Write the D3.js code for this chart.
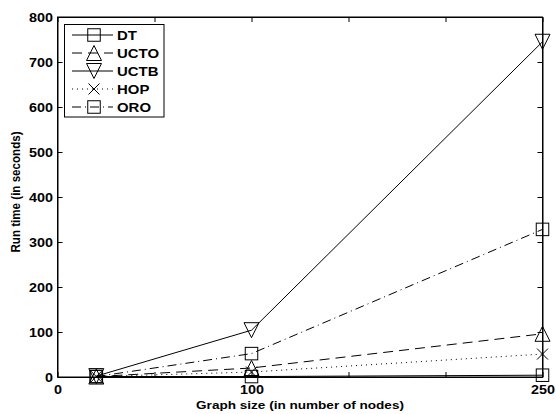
<!DOCTYPE html>
<html><head><meta charset="utf-8">
<script src="https://cdn.jsdelivr.net/npm/d3@7"></script>
<style>
html,body{margin:0;padding:0;background:#fff;}
text{font-family:"Liberation Sans",Arial,Helvetica,sans-serif;font-weight:bold;fill:#000;}
</style></head>
<body>
<svg id="chart" width="556" height="414"></svg>
<script>
// ---- data ----
const graphSizes = [20, 100, 250];
const seriesNames = ["DT", "UCTO", "UCTB", "HOP", "ORO"];
const dtValues   = [1, 1, 4];
const uctoValues = [1, 20, 96];
const uctbValues = [2, 104, 745];
const hopValues  = [1, 11, 51];
const oroValues  = [1, 52, 328];
const xTickValues = [0, 50, 100, 150, 200, 250];
const xTickLabels = [0, 100, 250];
const yTickValues = [0, 100, 200, 300, 400, 500, 600, 700, 800];

const markers = ["square", "triUp", "triDown", "cross", "square"];
const dashes = [null, "10,6", null, "1,4", "9,4,1,4"];
const allValues = [dtValues, uctoValues, uctbValues, hopValues, oroValues];
const series = seriesNames.map((n, i) => ({name: n, values: allValues[i], marker: markers[i], dash: dashes[i]}));

const SX = 1.15; // horizontal stretch of the text in the reference
const svg = d3.select("#chart");
const L = 57.5, R = 542.5, T = 17, B = 377;
const x = d3.scaleLinear().domain([0, 250]).range([L, R]);
const y = d3.scaleLinear().domain([0, 800]).range([B, T]);

svg.append("rect").attr("width", 556).attr("height", 414).attr("fill", "#fff");

svg.append("rect").attr("x", L).attr("y", T).attr("width", R - L).attr("height", B - T)
  .attr("fill", "none").attr("stroke", "#000").attr("stroke-width", 1);

const tk = 5;
svg.append("g").attr("transform", `translate(0,${B})`)
  .call(d3.axisBottom(x).tickValues(xTickValues).tickSizeInner(-tk).tickSizeOuter(0)
    .tickPadding(8).tickFormat(d => xTickLabels.includes(d) ? d : ""));
svg.append("g").attr("transform", `translate(0,${T})`)
  .call(d3.axisTop(x).tickValues(xTickValues).tickSizeInner(-tk).tickSizeOuter(0).tickFormat(""));
svg.append("g").attr("class", "yax").attr("transform", `translate(${L},0)`)
  .call(d3.axisLeft(y).tickValues(yTickValues).tickSizeInner(-tk).tickSizeOuter(0).tickPadding(4));
svg.append("g").attr("transform", `translate(${R},0)`)
  .call(d3.axisRight(y).tickValues(yTickValues).tickSizeInner(-tk).tickSizeOuter(0).tickFormat(""));
svg.selectAll(".domain").attr("stroke", "#000");
svg.selectAll(".tick line").attr("stroke", "#000");
svg.selectAll(".tick text").attr("font-size", 12.5).attr("font-family", null).attr("fill", "#000")
  .attr("transform", `scale(${SX},1)`);

function stext(g, tx, ty, str, size, anchor) {
  return g.append("text").attr("transform", `translate(${tx},${ty}) scale(${SX},1)`)
    .attr("font-size", size).attr("text-anchor", anchor || "start").text(str);
}

stext(svg, (L + R) / 2, 409, "Graph size (in number of nodes)", 11.8, "middle");
svg.append("text").attr("transform", `translate(20,192) scale(${SX},1) rotate(-90)`)
  .attr("text-anchor", "middle").attr("font-size", 11.6).text("Run time (in seconds)");

function drawMarker(g, type, cx, cy) {
  const s = 12.5, h = s / 2;
  if (type === "square") {
    g.append("rect").attr("x", cx - h).attr("y", cy - h).attr("width", s).attr("height", s)
      .attr("fill", "none").attr("stroke", "#000").attr("stroke-width", 1);
  } else if (type === "triUp") {
    const w = 7.5;
    g.append("path").attr("d", `M${cx},${cy - w}L${cx + w},${cy + w}L${cx - w},${cy + w}Z`)
      .attr("fill", "none").attr("stroke", "#000").attr("stroke-width", 1);
  } else if (type === "triDown") {
    const w = 7.5;
    g.append("path").attr("d", `M${cx},${cy + w}L${cx + w},${cy - w}L${cx - w},${cy - w}Z`)
      .attr("fill", "none").attr("stroke", "#000").attr("stroke-width", 1);
  } else if (type === "cross") {
    const w = 5.5;
    g.append("path").attr("d", `M${cx - w},${cy - w}L${cx + w},${cy + w}M${cx - w},${cy + w}L${cx + w},${cy - w}`)
      .attr("fill", "none").attr("stroke", "#000").attr("stroke-width", 1);
  }
}

const line = d3.line().x((d, i) => x(graphSizes[i])).y(d => y(d));
const plot = svg.append("g");
series.forEach(s => {
  plot.append("path").datum(s.values).attr("d", line)
    .attr("fill", "none").attr("stroke", "#000").attr("stroke-width", 1)
    .attr("stroke-dasharray", s.dash);
  s.values.forEach((v, i) => drawMarker(plot, s.marker, x(graphSizes[i]), y(v)));
});

const lg = svg.append("g");
lg.append("rect").attr("x", 64.5).attr("y", 24.5).attr("width", 99.5).attr("height", 92.5)
  .attr("fill", "#fff").attr("stroke", "#000").attr("stroke-width", 1);
series.forEach((s, i) => {
  const yy = 35 + i * 18;
  lg.append("line").attr("x1", 72).attr("x2", 113).attr("y1", yy).attr("y2", yy)
    .attr("stroke", "#000").attr("stroke-width", 1).attr("stroke-dasharray", s.dash);
  drawMarker(lg, s.marker, 94, yy);
  stext(lg, 117, yy + 5, s.name, 13);
});
</script>
</body></html>
